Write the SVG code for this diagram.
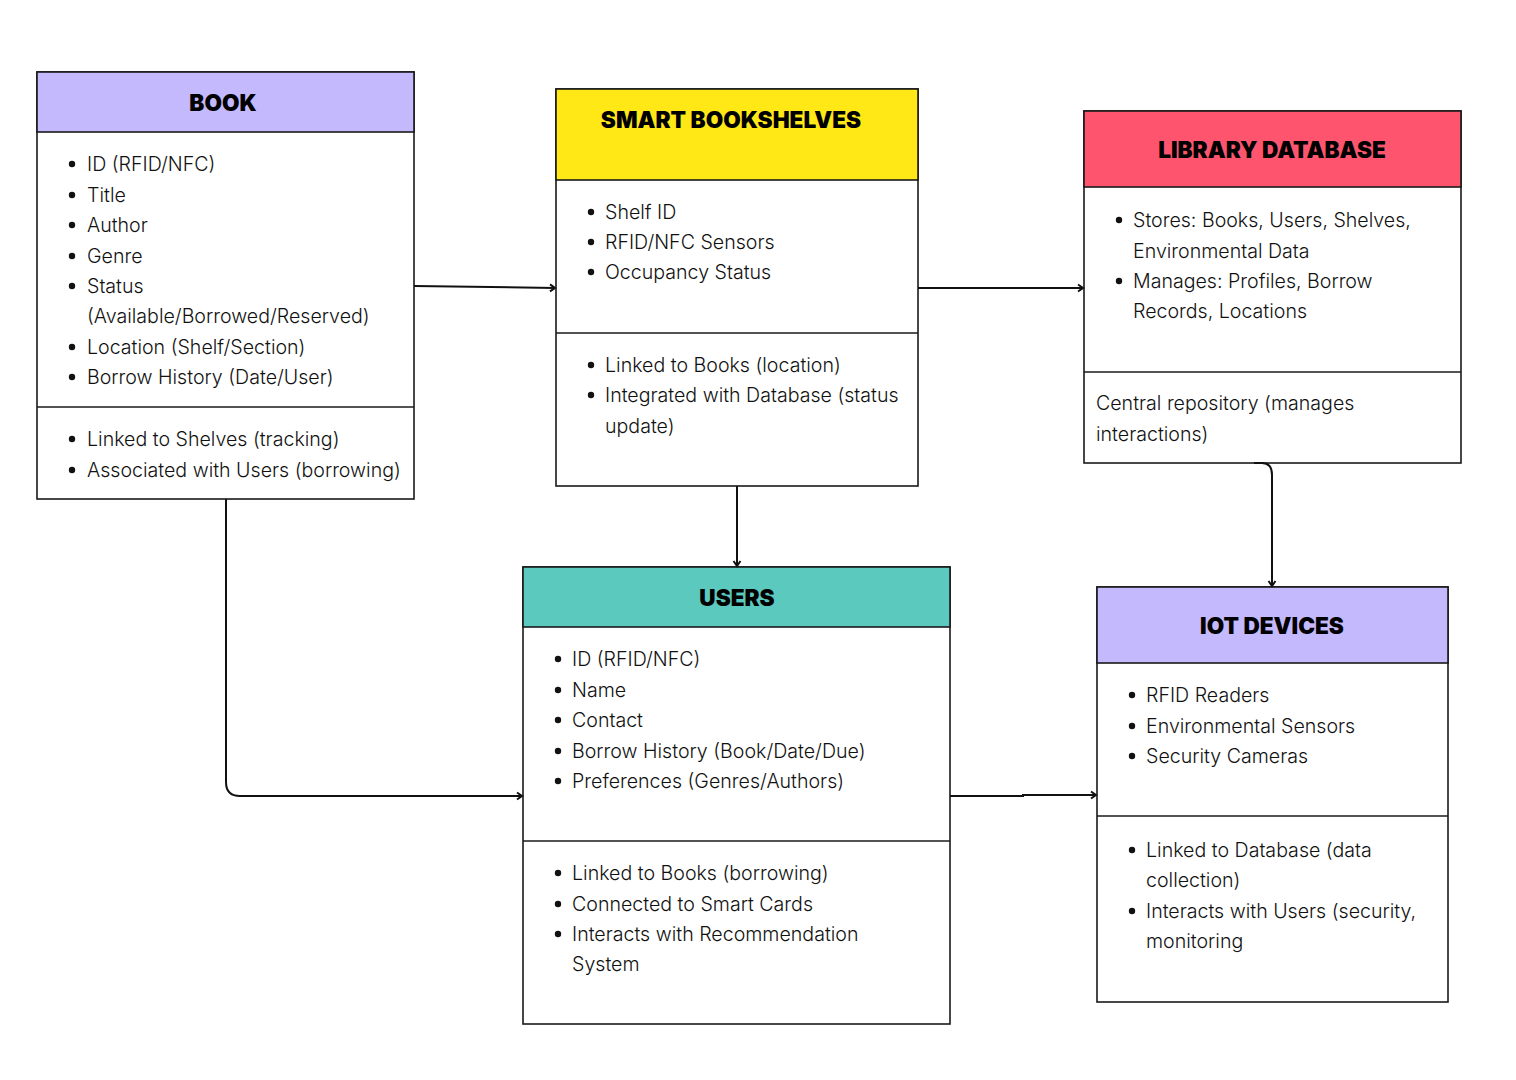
<svg xmlns="http://www.w3.org/2000/svg" width="1516" height="1080" viewBox="0 0 1516 1080">
  <style>
    .box { fill: #ffffff; stroke: #1a1a1a; stroke-width: 1.6; }
    .div { stroke: #1a1a1a; stroke-width: 1.6; fill: none; }
    .title { font-family: Inter, "Liberation Sans", sans-serif; font-weight: 900; font-size: 22.6px; fill: #000; text-anchor: middle; }
    .item { font-family: Inter, "Liberation Sans", sans-serif; font-weight: 350; font-size: 19.6px; fill: #111; }
    .dot { fill: #111; }
    .conn { fill: none; stroke: #111; stroke-width: 2; }
  </style>
  <defs>
    <marker id="arrow" markerWidth="10" markerHeight="10" refX="7" refY="5" orient="auto" markerUnits="userSpaceOnUse">
      <path d="M2,1.5 L7,5 L2,8.5" fill="none" stroke="#111" stroke-width="2"/>
    </marker>
  </defs>
  <rect width="1516" height="1080" fill="#ffffff"/>

  <!-- BOOK -->
  <g id="book">
    <rect class="box" x="37" y="72" width="377" height="427"/>
    <rect x="37" y="72" width="377" height="60" fill="#C4B9FD" stroke="#1a1a1a" stroke-width="1.6"/>
    <text class="title" x="223" y="111">BOOK</text>
    <line class="div" x1="37" y1="407" x2="414" y2="407"/>
    <g class="dot">
      <circle cx="72" cy="164" r="3.2"/><circle cx="72" cy="195" r="3.2"/><circle cx="72" cy="225" r="3.2"/>
      <circle cx="72" cy="256" r="3.2"/><circle cx="72" cy="286" r="3.2"/><circle cx="72" cy="347" r="3.2"/>
      <circle cx="72" cy="377" r="3.2"/><circle cx="72" cy="439" r="3.2"/><circle cx="72" cy="470" r="3.2"/>
    </g>
    <text class="item" x="87" y="171">ID (RFID/NFC)</text>
    <text class="item" x="87" y="202">Title</text>
    <text class="item" x="87" y="232">Author</text>
    <text class="item" x="87" y="263">Genre</text>
    <text class="item" x="87" y="293">Status</text>
    <text class="item" x="87" y="323">(Available/Borrowed/Reserved)</text>
    <text class="item" x="87" y="354">Location (Shelf/Section)</text>
    <text class="item" x="87" y="384">Borrow History (Date/User)</text>
    <text class="item" x="87" y="446">Linked to Shelves (tracking)</text>
    <text class="item" x="87" y="477">Associated with Users (borrowing)</text>
  </g>

  <!-- SMART BOOKSHELVES -->
  <g id="smart-bookshelves">
    <rect class="box" x="556" y="89" width="362" height="397"/>
    <rect x="556" y="89" width="362" height="91" fill="#FFE815" stroke="#1a1a1a" stroke-width="1.6"/>
    <text class="title" x="731" y="128">SMART BOOKSHELVES</text>
    <line class="div" x1="556" y1="333" x2="918" y2="333"/>
    <g class="dot">
      <circle cx="591" cy="212" r="3.2"/><circle cx="591" cy="242" r="3.2"/><circle cx="591" cy="272" r="3.2"/>
      <circle cx="591" cy="365" r="3.2"/><circle cx="591" cy="395" r="3.2"/>
    </g>
    <text class="item" x="605" y="219">Shelf ID</text>
    <text class="item" x="605" y="249">RFID/NFC Sensors</text>
    <text class="item" x="605" y="279">Occupancy Status</text>
    <text class="item" x="605" y="372">Linked to Books (location)</text>
    <text class="item" x="605" y="402">Integrated with Database (status</text>
    <text class="item" x="605" y="433">update)</text>
  </g>

  <!-- LIBRARY DATABASE -->
  <g id="library-database">
    <rect class="box" x="1084" y="111" width="377" height="352"/>
    <rect x="1084" y="111" width="377" height="76" fill="#FF546E" stroke="#1a1a1a" stroke-width="1.6"/>
    <text class="title" x="1272" y="158">LIBRARY DATABASE</text>
    <line class="div" x1="1084" y1="372" x2="1461" y2="372"/>
    <g class="dot">
      <circle cx="1119" cy="220" r="3.2"/><circle cx="1119" cy="281" r="3.2"/>
    </g>
    <text class="item" x="1133" y="227">Stores: Books, Users, Shelves,</text>
    <text class="item" x="1133" y="258">Environmental Data</text>
    <text class="item" x="1133" y="288">Manages: Profiles, Borrow</text>
    <text class="item" x="1133" y="318">Records, Locations</text>
    <text class="item" x="1096" y="410">Central repository (manages</text>
    <text class="item" x="1096" y="441">interactions)</text>
  </g>

  <!-- USERS -->
  <g id="users">
    <rect class="box" x="523" y="567" width="427" height="457"/>
    <rect x="523" y="567" width="427" height="60" fill="#5CC9BE" stroke="#1a1a1a" stroke-width="1.6"/>
    <text class="title" x="737" y="606">USERS</text>
    <line class="div" x1="523" y1="841" x2="950" y2="841"/>
    <g class="dot">
      <circle cx="558" cy="659" r="3.2"/><circle cx="558" cy="690" r="3.2"/><circle cx="558" cy="720" r="3.2"/>
      <circle cx="558" cy="751" r="3.2"/><circle cx="558" cy="781" r="3.2"/>
      <circle cx="558" cy="873" r="3.2"/><circle cx="558" cy="904" r="3.2"/><circle cx="558" cy="934" r="3.2"/>
    </g>
    <text class="item" x="572" y="666">ID (RFID/NFC)</text>
    <text class="item" x="572" y="697">Name</text>
    <text class="item" x="572" y="727">Contact</text>
    <text class="item" x="572" y="758">Borrow History (Book/Date/Due)</text>
    <text class="item" x="572" y="788">Preferences (Genres/Authors)</text>
    <text class="item" x="572" y="880">Linked to Books (borrowing)</text>
    <text class="item" x="572" y="911">Connected to Smart Cards</text>
    <text class="item" x="572" y="941">Interacts with Recommendation</text>
    <text class="item" x="572" y="971">System</text>
  </g>

  <!-- IOT DEVICES -->
  <g id="iot-devices">
    <rect class="box" x="1097" y="587" width="351" height="415"/>
    <rect x="1097" y="587" width="351" height="76" fill="#C4B9FD" stroke="#1a1a1a" stroke-width="1.6"/>
    <text class="title" x="1272" y="634">IOT DEVICES</text>
    <line class="div" x1="1097" y1="816" x2="1448" y2="816"/>
    <g class="dot">
      <circle cx="1132" cy="695" r="3.2"/><circle cx="1132" cy="726" r="3.2"/><circle cx="1132" cy="756" r="3.2"/>
      <circle cx="1132" cy="850" r="3.2"/><circle cx="1132" cy="911" r="3.2"/>
    </g>
    <text class="item" x="1146" y="702">RFID Readers</text>
    <text class="item" x="1146" y="733">Environmental Sensors</text>
    <text class="item" x="1146" y="763">Security Cameras</text>
    <text class="item" x="1146" y="857">Linked to Database (data</text>
    <text class="item" x="1146" y="887">collection)</text>
    <text class="item" x="1146" y="918">Interacts with Users (security,</text>
    <text class="item" x="1146" y="948">monitoring</text>
  </g>

  <!-- connectors -->
  <g id="connectors">
    <path class="conn" d="M414,286 L555,288" marker-end="url(#arrow)"/>
    <path class="conn" d="M918,288 L1083,288" marker-end="url(#arrow)"/>
    <path class="conn" d="M1254,463 L1262,463 Q1272,463 1272,475 L1272,586" marker-end="url(#arrow)"/>
    <path class="conn" d="M737,486 L737,566" marker-end="url(#arrow)"/>
    <path class="conn" d="M226,499 L226,782 Q226,796 240,796 L522,796" marker-end="url(#arrow)"/>
    <path class="conn" d="M950,796 L1023,796 L1023,795 L1096,795" marker-end="url(#arrow)"/>
  </g>
</svg>
